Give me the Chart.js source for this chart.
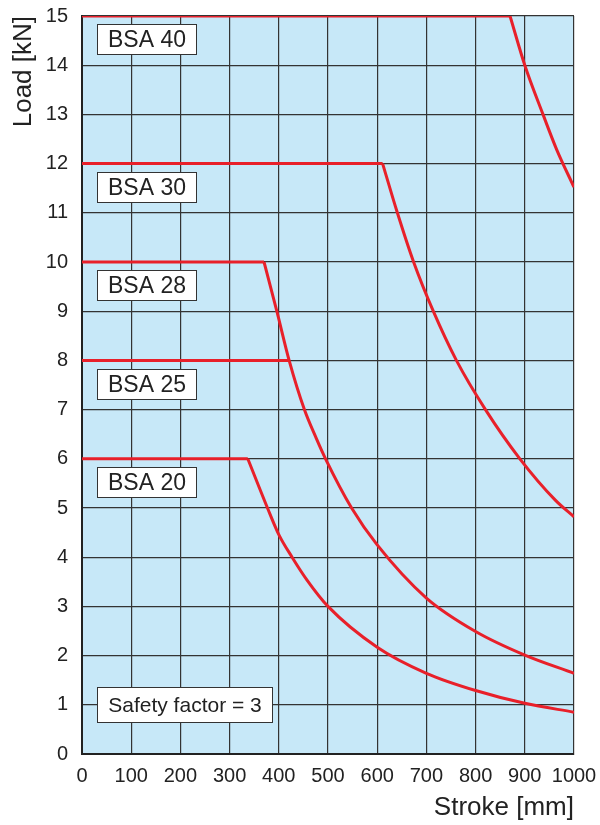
<!DOCTYPE html>
<html>
<head>
<meta charset="utf-8">
<script src="https://cdn.jsdelivr.net/npm/chart.js@4.4.1/dist/chart.umd.min.js"></script>
<style>
  html, body { margin: 0; padding: 0; background: #fff; }
  #wrap { width: 600px; height: 825px; }
</style>
</head>
<body>
<div id="wrap"><canvas id="myChart"></canvas></div>
<script>
// permissible load vs stroke
var sizes = ['BSA 40', 'BSA 30', 'BSA 28', 'BSA 25', 'BSA 20'];
var maxLoad = [15, 12, 10, 8, 6];
var flatEnd = [870, 611, 370, 421, 337];

// falling (buckling) part of each curve, BSA 25 joins the BSA 28 curve
var bsa40Stroke = [870, 900, 937, 965, 1000];
var bsa40Load = [15, 14, 13, 12.28, 11.52];
var bsa30Stroke = [611, 641, 674, 714, 761, 820, 890, 962, 1000];
var bsa30Load = [12, 11, 10, 9, 8, 7, 6, 5.16, 4.82];
var bsa28Stroke = [370, 396, 421, 452, 476, 495, 548, 600, 700, 800, 900, 1000];
var bsa28Load = [10, 9, 8, 7, 6.42, 6, 5, 4.25, 3.17, 2.49, 2.01, 1.64];
var bsa20Stroke = [337, 377, 400, 427, 457, 500, 600, 700, 800, 900, 1000];
var bsa20Load = [6, 5, 4.46, 4, 3.54, 3.0, 2.17, 1.64, 1.29, 1.03, 0.85];

var strokeTicks = [0, 100, 200, 300, 400, 500, 600, 700, 800, 900, 1000];
var loadTicks = [0, 1, 2, 3, 4, 5, 6, 7, 8, 9, 10, 11, 12, 13, 14, 15];

var RED = '#e8202a';
var FONT = '"Liberation Sans", Arial, sans-serif';

function pts(xs, ys) {
    return xs.map(function(x, i) { return { x: x, y: ys[i] }; });
}

var datasets = [];
sizes.forEach(function(name, i) {
    datasets.push({
        label: name,
        data: pts([0, flatEnd[i]], [maxLoad[i], maxLoad[i]]),
        borderColor: RED,
        borderWidth: 3,
        showLine: true,
        pointRadius: 0,
        tension: 0
    });
});
[[bsa40Stroke, bsa40Load], [bsa30Stroke, bsa30Load], [bsa28Stroke, bsa28Load], [bsa20Stroke, bsa20Load]].forEach(function(c) {
    datasets.push({
        data: pts(c[0], c[1]),
        borderColor: RED,
        borderWidth: 3,
        showLine: true,
        pointRadius: 0,
        cubicInterpolationMode: 'monotone'
    });
});

// boxes with the size names and the note
var boxes = [];
sizes.forEach(function(name, i) {
    boxes.push({ text: name, x0: 31, x1: 232, y0: maxLoad[i] - 0.165, y1: maxLoad[i] - 0.775, size: 23 });
});
boxes.push({ text: 'Safety factor = 3', x0: 31, x1: 385.6, y0: 1.356, y1: 0.656, size: 21 });

var plotBg = {
    id: 'plotBg',
    beforeDraw: function(chart) {
        var a = chart.chartArea, ctx = chart.ctx;
        ctx.save();
        ctx.fillStyle = '#c7e8f8';
        ctx.fillRect(a.left, a.top, a.right - a.left, a.bottom - a.top);
        ctx.restore();
    },
    afterDatasetsDraw: function(chart) {
        var ctx = chart.ctx, xs = chart.scales.x, ys = chart.scales.y;
        ctx.save();
        boxes.forEach(function(b) {
            var l = Math.round(xs.getPixelForValue(b.x0)) + 0.5;
            var r = Math.round(xs.getPixelForValue(b.x1)) + 0.5;
            var t = Math.round(ys.getPixelForValue(b.y0)) + 0.5;
            var btm = Math.round(ys.getPixelForValue(b.y1)) + 0.5;
            ctx.fillStyle = '#fff';
            ctx.fillRect(l, t, r - l, btm - t);
            ctx.strokeStyle = '#333';
            ctx.lineWidth = 1;
            ctx.strokeRect(l, t, r - l, btm - t);
            ctx.fillStyle = '#222';
            ctx.font = b.size + 'px ' + FONT;
            ctx.textAlign = 'center';
            ctx.textBaseline = 'middle';
            ctx.fillText(b.text, (l + r) / 2, (t + btm) / 2 + 1);
        });
        ctx.restore();
    }
};

function noEdgePad(scale) {
    scale.paddingTop = 0;
    scale.paddingBottom = 0;
    scale.paddingLeft = 0;
    scale.paddingRight = 0;
}

var ctx = document.getElementById('myChart').getContext('2d');
var chart = new Chart(ctx, {
    type: 'scatter',
    data: { datasets: datasets },
    plugins: [plotBg],
    options: {
        responsive: true,
        maintainAspectRatio: false,
        animation: false,
        layout: {
            padding: { top: 16, right: 26, bottom: 0, left: 0 }
        },
        plugins: {
            legend: { display: false },
            tooltip: { enabled: false }
        },
        scales: {
            x: {
                type: 'linear',
                min: 0,
                max: 1000,
                afterBuildTicks: function(scale) {
                    scale.ticks = strokeTicks.map(function(v) { return { value: v }; });
                },
                afterFit: function(scale) { scale.height = 71; noEdgePad(scale); },
                ticks: {
                    color: '#222',
                    font: { family: FONT, size: 20 },
                    padding: 10,
                    maxRotation: 0,
                    autoSkip: false,
                    callback: function(v) { return String(v); }
                },
                grid: { color: '#333', lineWidth: 1.2, drawTicks: false },
                border: { color: '#222', width: 2 },
                title: {
                    display: true,
                    text: 'Stroke [mm]',
                    align: 'end',
                    color: '#222',
                    font: { family: FONT, size: 26 },
                    padding: { top: 0, bottom: 2 }
                }
            },
            y: {
                type: 'linear',
                min: 0,
                max: 15,
                afterBuildTicks: function(scale) {
                    scale.ticks = loadTicks.map(function(v) { return { value: v }; });
                },
                afterFit: function(scale) { scale.width = 82; noEdgePad(scale); },
                ticks: {
                    color: '#222',
                    font: { family: FONT, size: 20 },
                    padding: 14,
                    autoSkip: false,
                    callback: function(v) { return String(v); }
                },
                grid: { color: '#333', lineWidth: 1.2, drawTicks: false },
                border: { color: '#222', width: 2 },
                title: {
                    display: true,
                    text: 'Load [kN]',
                    align: 'end',
                    color: '#222',
                    font: { family: FONT, size: 26 },
                    padding: { top: 8, bottom: 0 }
                }
            }
        }
    }
});
</script>
</body>
</html>
